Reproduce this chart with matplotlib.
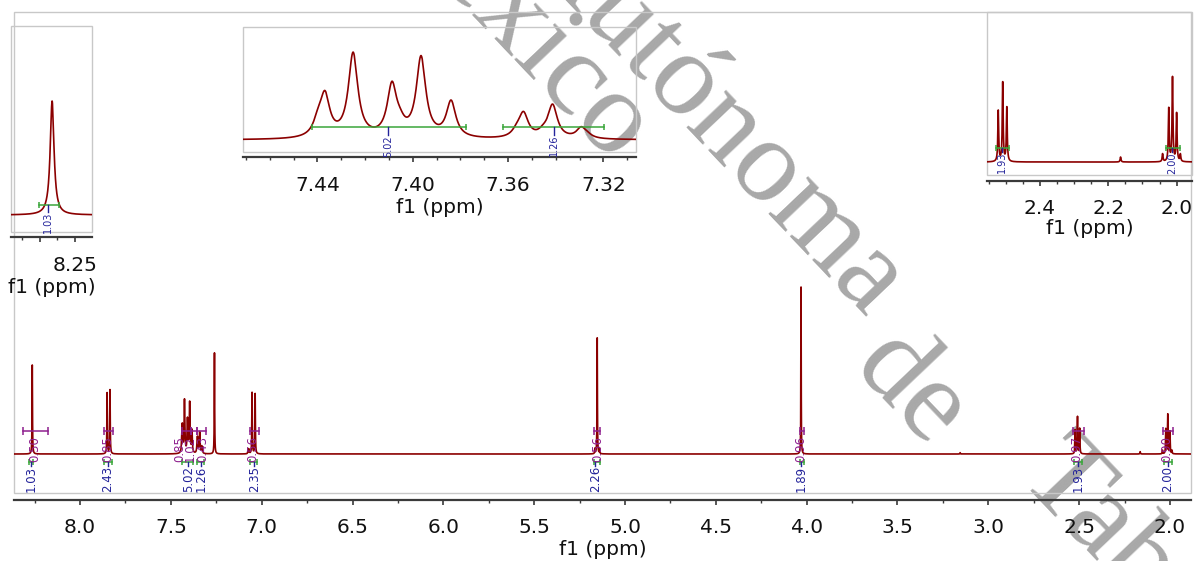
import numpy as np
import matplotlib.pyplot as plt
from matplotlib.ticker import MultipleLocator, FixedLocator, FormatStrFormatter
from matplotlib.patches import Rectangle

# ---- peak list (ppm, height, half width) ----
peak_ppm = [8.263, 7.851, 7.835, 7.260, 7.075, 7.069, 7.053, 7.036,
            5.166, 5.153, 5.140, 4.031, 3.155,
            2.522, 2.509, 2.497, 2.164, 2.041, 2.023, 2.012, 2.000, 1.989]
peak_height = [53.3, 36.5, 38.3, 60.5, 3.0, 2.5, 36.7, 36.0,
               3.0, 69.5, 3.0, 100.0, 0.8,
               14.3, 22.2, 15.2, 1.4, 2.2, 14.9, 23.6, 13.5, 2.0]
peak_width = [0.0013, 0.0014, 0.0014, 0.0012, 0.0015, 0.0015, 0.0014, 0.0014,
              0.0012, 0.0012, 0.0012, 0.0010, 0.0015,
              0.0015, 0.0015, 0.0015, 0.0015, 0.0015, 0.0015, 0.0015, 0.0015, 0.0015]

# aromatic multiplet 7.30-7.45 (from the zoomed inset)
multiplet_ppm = [7.4397, 7.4368, 7.4250, 7.4087, 7.4053, 7.3965, 7.3839,
                 7.3563, 7.3535, 7.3453, 7.3413, 7.3293, 7.3268]
multiplet_height = [5.0, 15.0, 31.6, 19.0, 3.0, 30.0, 13.5,
                    2.0, 9.0, 1.5, 12.4, 3.8, 1.0]
multiplet_width = 0.0024

# integrals: green (lower) with blue values, purple (upper) with values
green_ranges = [(8.281, 8.259), (7.868, 7.824), (7.438, 7.377), (7.355, 7.317),
                (7.063, 7.025), (5.168, 5.135), (4.039, 4.017), (2.529, 2.485),
                (2.033, 1.991)]
green_label_ppm = [8.270, 7.846, 7.405, 7.333, 7.041, 5.163, 4.033, 2.507, 2.013]
green_labels = ['1.03', '2.43', '5.02', '1.26', '2.35', '2.26', '1.89', '1.93', '2.00']

purple_ranges = [(8.314, 8.176), (7.868, 7.818), (7.438, 7.388), (7.388, 7.355),
                 (7.355, 7.306), (7.063, 7.014), (5.168, 5.135), (4.039, 4.017),
                 (2.534, 2.474), (2.039, 1.985)]
purple_label_ppm = [8.248, 7.846, 7.449, 7.394, 7.322, 7.052, 5.152, 4.033, 2.512, 2.018]
purple_labels = ['0.50', '0.85', '0.85', '1.02', '0.43', '0.56', '0.56', '0.96', '0.97', '0.90']

# inset integrals
inset1_ranges = [(8.2705, 8.2591)]
inset1_label_ppm = [8.2653]
inset1_labels = ['1.03']
inset2_ranges = [(7.4422, 7.3775), (7.3620, 7.3196)]
inset2_label_ppm = [7.4103, 7.3407]
inset2_labels = ['5.02', '1.26']
inset3_ranges = [(2.529, 2.491), (2.0313, 1.990)]
inset3_label_ppm = [2.511, 2.014]
inset3_labels = ['1.93', '2.00']

# ---- build the trace from the peak list ----
ppm = np.arange(1.80, 8.45, 0.0001)
intensity = np.zeros_like(ppm)
for c, h, g in zip(peak_ppm, peak_height, peak_width):
    intensity += h / (1 + ((ppm - c) / g) ** 2)
for c, h in zip(multiplet_ppm, multiplet_height):
    intensity += h / (1 + ((ppm - c) / multiplet_width) ** 2)

RED = '#8b0000'
GREEN = '#3aa63a'
PURPLE = '#8e1f8e'
BLUE = '#23239a'
FRAME = '#c8c8c8'
AXIS = '#3a3a3a'

W, H = 1199, 561
fig = plt.figure(figsize=(W / 100, H / 100), dpi=100)


def px_axes(x0, y0, x1, y1):
    return fig.add_axes([x0 / W, 1 - y1 / H, (x1 - x0) / W, (y1 - y0) / H])


def style_axes(ax, xlim, ylim, major, minor, fmt, offset_px, tick_pad, label_pad):
    ax.plot(ppm, intensity, color=RED, lw=1.2, zorder=3)
    ax.set_xlim(*xlim)
    ax.set_ylim(*ylim)
    ax.set_facecolor('none')
    ax.set_yticks([])
    for s in ['top', 'left', 'right']:
        ax.spines[s].set_visible(False)
    ax.spines['bottom'].set_position(('outward', offset_px * 0.72))
    ax.spines['bottom'].set_color(AXIS)
    ax.spines['bottom'].set_linewidth(1.6)
    ax.add_patch(Rectangle((0, 0), 1, 1, transform=ax.transAxes, fill=False,
                           edgecolor=FRAME, lw=1.0, clip_on=False, zorder=1))
    ax.xaxis.set_major_locator(major)
    ax.xaxis.set_minor_locator(minor)
    ax.xaxis.set_major_formatter(FormatStrFormatter(fmt))
    ax.tick_params(axis='x', which='major', direction='out', length=3.8, width=1.2,
                   color=AXIS, labelsize=14.5, pad=tick_pad, labelcolor='#111111')
    ax.tick_params(axis='x', which='minor', direction='out', length=2.2, width=1.0,
                   color=AXIS)
    ax.set_xlabel('f1 (ppm)', fontsize=14.5, labelpad=label_pad, color='#111111')


def integrals(ax, ranges, label_ppm, labels, y_bar, y_text, size, cap):
    for (a, b), xl, lab in zip(ranges, label_ppm, labels):
        ax.plot([a, b], [y_bar, y_bar], color=GREEN, lw=1.1, marker='|',
                markersize=cap, mew=1.1, zorder=4)
        ax.plot([xl, xl], [y_bar, y_text], color=BLUE, lw=1.0, zorder=4)
        ax.text(xl, y_text, lab, rotation=90, ha='center', va='top', fontsize=size,
                color=BLUE, zorder=4, clip_on=False)


# ---- main spectrum ----
ax = px_axes(14, 12, 1191, 493)
style_axes(ax, (8.3636, 1.8843), (-23.35, 264.7), MultipleLocator(0.5),
           MultipleLocator(0.25), '%.1f', 7, 9, 2)
integrals(ax, green_ranges, green_label_ppm, green_labels, -4.8, -7.0, 8.5, 4)
for (a, b), xl, lab in zip(purple_ranges, purple_label_ppm, purple_labels):
    ax.plot([a, b], [13.8, 13.8], color=PURPLE, lw=1.1, marker='|',
            markersize=6, mew=1.1, zorder=4)
    ax.text(xl, 11.0, lab, rotation=90, ha='center', va='top', fontsize=8.5,
            color=PURPLE, zorder=4)

# ---- inset 1: 8.26 singlet ----
ax1 = px_axes(11, 26, 92, 232)
style_axes(ax1, (8.2864, 8.2403), (-7.95, 88.4), FixedLocator([8.25, 8.27]),
           FixedLocator([8.26, 8.28]), '%.2f', 5, 10, 2)
ax1.set_xticklabels(['8.25', ''])
integrals(ax1, inset1_ranges, inset1_label_ppm, inset1_labels, 4.7, 1.6, 7, 5)

# ---- inset 2: 7.30-7.47 multiplet ----
ax2 = px_axes(243, 27, 636, 152)
style_axes(ax2, (7.4712, 7.3063), (-4.5, 42.5), MultipleLocator(0.04),
           MultipleLocator(0.01), '%.2f', 5, 10, 2)
integrals(ax2, inset2_ranges, inset2_label_ppm, inset2_labels, 4.9, 1.9, 7, 5)

# ---- inset 3: 1.95-2.56 ----
ax3 = px_axes(987, 12, 1192, 175)
style_axes(ax3, (2.555, 1.955), (-3.65, 42.2), MultipleLocator(0.2),
           MultipleLocator(0.05), '%.1f', 6, 9, 1)
integrals(ax3, inset3_ranges, inset3_label_ppm, inset3_labels, 3.9, 2.8, 7, 5)

# ---- watermark ----
wm = dict(rotation=-46.5, rotation_mode='anchor', va='baseline', fontsize=86,
          family='Liberation Serif', color='#a8a8a8', zorder=-5)
fig.text(866 / W, 1 - 318 / H, 'Universidad Juárez Autónoma', ha='right', **wm)
fig.text(850 / W, 1 - 369 / H, 'de', ha='left', **wm)
fig.text(1016 / W, 1 - 479 / H, 'Tabasco.', ha='left', **wm)
fig.text(611 / W, 1 - 166 / H, 'México', ha='right', **wm)

fig.savefig('out.png', dpi=100)
